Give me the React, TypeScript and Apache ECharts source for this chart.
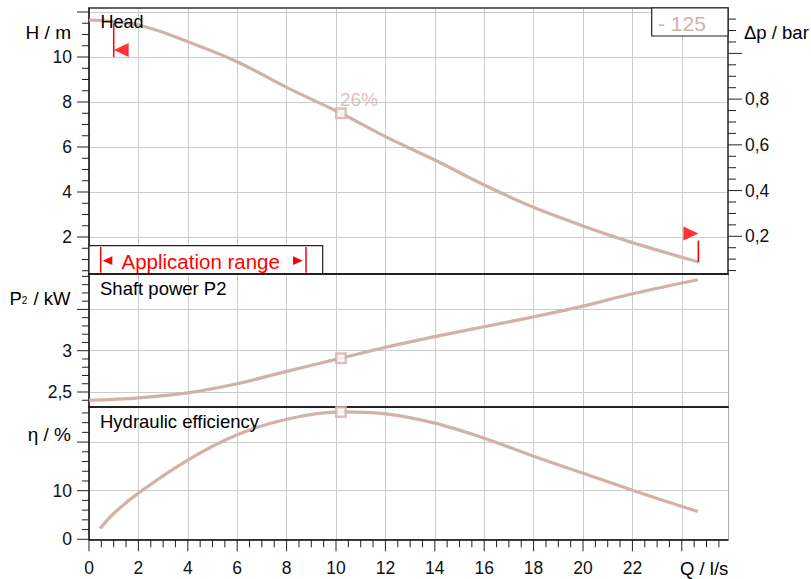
import React, { useEffect, useRef } from "react";
import * as echarts from "echarts";

// ---- data ----
const flowHead = [0, 2, 4, 6, 8, 10.2, 12, 14, 16, 18, 20, 22, 24.67];
const headValues = [11.64, 11.42, 10.68, 9.79, 8.65, 7.5, 6.46, 5.42, 4.31, 3.32, 2.49, 1.75, 0.89];
const flowPower = [0, 2, 4, 6, 8, 10.2, 12, 14, 16, 18, 20, 22, 24.65];
const powerValues = [2.4, 2.43, 2.49, 2.6, 2.75, 2.91, 3.04, 3.17, 3.29, 3.41, 3.54, 3.69, 3.86];
const flowEff = [0.45, 1, 2, 4, 6, 8, 10.2, 12, 14, 16, 18, 20, 22, 24.65];
const effValues = [2.2, 5.3, 9.5, 16.3, 21.5, 24.7, 26.2, 25.8, 23.9, 20.8, 17.1, 13.6, 10.1, 5.7];

const dutyFlow = 10.2;
const dutyHead = 7.5;
const dutyPower = 2.91;
const dutyEff = 26.2;
const dutyLabel = "26%";
const sizeLabel = "- 125";
const rangeLabel = "Application range";

const rangeMin = { flow: 1.0, headTop: 11.5, headBottom: 10.0 };
const rangeMax = { flow: 24.67, headTop: 1.84, headBottom: 0.89 };

// axis extents
const qRange = [0, 25.87];
const hRange = [0.356, 12.178];
const metresPerBar = 10.16;
const pRange = [2.322, 3.929];
const etaRange = [0, 27.28];

// tick values
const qMajor = [0, 2, 4, 6, 8, 10, 12, 14, 16, 18, 20, 22, 24];
const qLabels = [0, 2, 4, 6, 8, 10, 12, 14, 16, 18, 20, 22];
const hMajor = [2, 4, 6, 8, 10, 12];
const hLabels = [2, 4, 6, 8, 10];
const dpMajor = [0.2, 0.4, 0.6, 0.8, 1.0];
const dpLabels = [0.2, 0.4, 0.6, 0.8];
const pMajor = [2.5, 3, 3.5];
const pLabels = [2.5, 3];
const etaMajor = [0, 10, 20];
const etaLabels = [0, 10];

function minorTicks(from: number, to: number, step: number, majors: number[]) {
  const out: number[] = [];
  const n = Math.round((to - from) / step);
  for (let i = 0; i <= n; i++) {
    const v = Math.round((from + i * step) * 1000) / 1000;
    if (!majors.some((m) => Math.abs(m - v) < 1e-6)) out.push(v);
  }
  return out;
}
const qMinor = minorTicks(0, 25.5, 0.5, qMajor);
const hMinor = minorTicks(0.5, 12, 0.5, hMajor);
const dpMinor = minorTicks(0.05, 1.15, 0.05, dpMajor);
const pMinor = minorTicks(2.4, 3.9, 0.1, pMajor);
const etaMinor = minorTicks(2, 26, 2, etaMajor);

// ---- styling ----
const FONT = '"Liberation Sans", Arial, Helvetica, sans-serif';
const CURVE = "#d3b0a8";
const GRIDC = "#cccccc";
const RED = "#ff0000";
const DARK = "#222222";

const LEFT = 89;
const RIGHT_EDGE = 728;
const G0 = { top: 8, bottom: 274 };
const G1 = { top: 274, bottom: 406.7 };
const G2 = { top: 406.7, bottom: 539.3 };

const comma = (v: number) => String(Math.round(v * 100) / 100).replace(".", ",");

function grid(g: { top: number; bottom: number }) {
  return { left: LEFT, width: RIGHT_EDGE - LEFT, top: g.top, height: g.bottom - g.top, containLabel: false };
}

function xAxis(gridIndex: number, opts: any) {
  return {
    type: "value",
    gridIndex,
    min: qRange[0],
    max: qRange[1],
    position: opts.position || "bottom",
    axisLine: { show: !!opts.line, onZero: false, lineStyle: opts.line || {} },
    axisTick: { show: false, customValues: qMajor },
    axisLabel: opts.labels
      ? { show: true, customValues: opts.labels, margin: 20, fontSize: 17.5, fontFamily: FONT, color: "#111" }
      : { show: false },
    splitLine: { show: !!opts.split, lineStyle: { color: GRIDC, width: 1 } },
  };
}

function yAxis(gridIndex: number, range: number[], opts: any) {
  return {
    type: "value",
    gridIndex,
    min: range[0],
    max: range[1],
    position: opts.position || "left",
    axisLine: { show: !!opts.line, onZero: false, lineStyle: opts.line || {} },
    axisTick: { show: false, customValues: opts.ticks || [] },
    axisLabel: opts.labels
      ? {
          show: true,
          customValues: opts.labels,
          margin: 17,
          fontSize: 17.5,
          fontFamily: FONT,
          color: "#111",
          formatter: (v: number) => comma(v),
        }
      : { show: false },
    splitLine: { show: !!opts.split, lineStyle: { color: GRIDC, width: 1 } },
  };
}

const pairs = (xs: number[], ys: number[]) => xs.map((x, i) => [x, ys[i]]);

function curve(name: string, xi: number, yi: number, data: number[][]) {
  return {
    name,
    type: "line",
    xAxisIndex: xi,
    yAxisIndex: yi,
    data,
    smooth: 0.35,
    showSymbol: false,
    symbol: "none",
    lineStyle: { color: CURVE, width: 3.2 },
    z: 3,
  };
}

function duty(xi: number, yi: number, value: number, label?: string) {
  return {
    type: "scatter",
    xAxisIndex: xi,
    yAxisIndex: yi,
    data: [[dutyFlow, value]],
    symbol: "rect",
    symbolSize: 9.5,
    itemStyle: { color: "#ffffff", borderColor: CURVE, borderWidth: 2.5 },
    label: label
      ? { show: true, formatter: label, position: [5, -17], color: CURVE, fontSize: 19, fontFamily: FONT }
      : { show: false },
    z: 5,
  };
}

function redLine(pt: { flow: number; headTop: number; headBottom: number }) {
  return {
    type: "line",
    xAxisIndex: 0,
    yAxisIndex: 0,
    data: [
      [pt.flow, pt.headTop],
      [pt.flow, pt.headBottom],
    ],
    showSymbol: false,
    symbol: "none",
    lineStyle: { color: RED, width: 1.5 },
    z: 6,
  };
}

function textEl(text: string, x: number, y: number, opts: any = {}) {
  return {
    type: "text",
    x,
    y,
    z: 100,
    style: {
      text,
      fill: opts.fill || "#000",
      fontSize: opts.size || 18,
      fontFamily: FONT,
      align: opts.align || "left",
      verticalAlign: "middle",
      rich: opts.rich,
    },
  };
}

export default function App() {
  const ref = useRef<HTMLDivElement>(null);
  useEffect(() => {
    if (!ref.current) return;
    const chart = echarts.init(ref.current, undefined, { renderer: "svg" });
    const dpRange = [hRange[0] / metresPerBar, hRange[1] / metresPerBar];
    const baseGraphic: any[] = [
      // application range box
      {
        type: "rect",
        z: 50,
        shape: { x: LEFT, y: 245.7, width: 322.7 - LEFT, height: 274 - 245.7 },
        style: { fill: "#ffffff", stroke: DARK, lineWidth: 1.2 },
      },
      { type: "line", z: 51, shape: { x1: 100.7, y1: 247, x2: 100.7, y2: 272.7 }, style: { stroke: RED, lineWidth: 1.5 } },
      { type: "line", z: 51, shape: { x1: 306, y1: 247, x2: 306, y2: 272.7 }, style: { stroke: RED, lineWidth: 1.5 } },
      {
        type: "polygon",
        z: 51,
        shape: { points: [[102.7, 260.7], [112.3, 256.3], [112.3, 265.1]] },
        style: { fill: RED },
      },
      {
        type: "polygon",
        z: 51,
        shape: { points: [[302.7, 260.7], [293, 256.3], [293, 265.1]] },
        style: { fill: RED },
      },
      textEl(rangeLabel, 121.5, 261.5, { fill: RED, size: 20.5 }),
      { type: "line", z: 52, shape: { x1: LEFT, y1: 274, x2: RIGHT_EDGE, y2: 274 }, style: { stroke: DARK, lineWidth: 2 } },
      // size label box
      {
        type: "rect",
        z: 50,
        shape: { x: 651.7, y: 8, width: RIGHT_EDGE - 651.7, height: 28 },
        style: { fill: "#ffffff", stroke: DARK, lineWidth: 1.2 },
      },
      textEl(sizeLabel, 658, 23, { fill: CURVE, size: 21 }),
      // panel titles
      textEl("Head", 100.5, 21.5, { size: 18 }),
      textEl("Shaft power P2", 100, 288.5, { size: 18.5 }),
      textEl("Hydraulic efficiency", 100, 421, { size: 18.5 }),
      // axis names
      textEl("H / m", 71, 32, { size: 19, align: "right" }),
      textEl("\u0394p / bar", 744, 32, { size: 18.5 }),
      textEl("{a|P}{s|2}{a| / kW}", 70.5, 298, {
        size: 18.5,
        align: "right",
        rich: {
          a: { fontSize: 18.5, fontFamily: FONT, fill: "#000" },
          s: { fontSize: 10, fontFamily: FONT, fill: "#000", verticalAlign: "bottom", padding: [0, 1, 2, 0] },
        },
      }),
      textEl("\u03b7 / %", 71, 434, { size: 19, align: "right" }),
      textEl("Q / l/s", 680, 568, { size: 18.5 }),
    ];
    const option: any = {
      animation: false,
      backgroundColor: "#ffffff",
      grid: [grid(G0), grid(G1), grid(G2)],
      xAxis: [
        xAxis(0, { line: { color: DARK, width: 2 }, split: true }),
        xAxis(0, { position: "top", line: { color: "#333", width: 1.5 } }),
        xAxis(1, { line: { color: DARK, width: 2 }, split: true }),
        xAxis(2, { line: { color: "#000", width: 1.5 }, split: true, labels: qLabels }),
      ],
      yAxis: [
        yAxis(0, hRange, { line: { color: "#000", width: 1.5 }, ticks: hMajor, labels: hLabels, split: true }),
        yAxis(0, dpRange, { position: "right", line: { color: DARK, width: 1.5 }, ticks: dpMajor, labels: dpLabels }),
        yAxis(1, pRange, { line: { color: "#000", width: 1.5 }, ticks: pMajor, labels: pLabels, split: true }),
        yAxis(1, pRange, { position: "right", line: { color: "#aaaaaa", width: 1 } }),
        yAxis(2, etaRange, { line: { color: "#000", width: 1.5 }, ticks: etaMajor, labels: etaLabels, split: true }),
        yAxis(2, etaRange, { position: "right", line: { color: "#aaaaaa", width: 1 } }),
      ],
      series: [
        curve("Head", 0, 0, pairs(flowHead, headValues)),
        duty(0, 0, dutyHead, dutyLabel),
        curve("Shaft power P2", 2, 2, pairs(flowPower, powerValues)),
        duty(2, 2, dutyPower),
        curve("Hydraulic efficiency", 3, 4, pairs(flowEff, effValues)),
        duty(3, 4, dutyEff),
        redLine(rangeMin),
        redLine(rangeMax),
        {
          type: "scatter",
          xAxisIndex: 0,
          yAxisIndex: 0,
          data: [[rangeMin.flow, rangeMin.headBottom]],
          symbol: "path://M10,0 L0,5 L10,10 Z",
          symbolSize: [15, 14],
          symbolOffset: [7.5, -7],
          itemStyle: { color: RED },
          z: 6,
        },
        {
          type: "scatter",
          xAxisIndex: 0,
          yAxisIndex: 0,
          data: [[rangeMax.flow, rangeMax.headTop]],
          symbol: "path://M0,0 L10,5 L0,10 Z",
          symbolSize: [15, 14],
          symbolOffset: [-7.5, -7],
          itemStyle: { color: RED },
          z: 6,
        },
      ],
      graphic: baseGraphic,
    };
    chart.setOption(option);

    // tick marks, positioned through the axes' own scales
    const ticks: any[] = [];
    const yTicks = (axisIndex: number, values: number[], len: number, side: "left" | "right") => {
      const x0 = side === "left" ? LEFT : RIGHT_EDGE;
      const x1 = side === "left" ? x0 - len : x0 + len;
      values.forEach((v) => {
        const y = chart.convertToPixel({ yAxisIndex: axisIndex } as any, v) as unknown as number;
        ticks.push({ type: "line", z: 40, shape: { x1: x0, y1: y, x2: x1, y2: y }, style: { stroke: DARK, lineWidth: 1 } });
      });
    };
    const xTicks = (axisIndex: number, values: number[], len: number, y0: number) => {
      values.forEach((v) => {
        const x = chart.convertToPixel({ xAxisIndex: axisIndex } as any, v) as unknown as number;
        ticks.push({ type: "line", z: 40, shape: { x1: x, y1: y0, x2: x, y2: y0 + len }, style: { stroke: DARK, lineWidth: 1 } });
      });
    };
    yTicks(0, hMajor, 12, "left");
    yTicks(0, hMinor, 7, "left");
    yTicks(1, dpMajor, 14, "right");
    yTicks(1, dpMinor, 8, "right");
    yTicks(2, pMajor, 12, "left");
    yTicks(2, pMinor, 7, "left");
    yTicks(4, etaMajor, 12, "left");
    yTicks(4, etaMinor, 7, "left");
    xTicks(3, qMajor, 12, G2.bottom);
    xTicks(3, qMinor, 8, G2.bottom);
    chart.setOption({ graphic: [...baseGraphic, ...ticks] });

    return () => chart.dispose();
  }, []);
  return (
    <div
      ref={ref}
      style={{ position: "absolute", left: 0, top: 0, width: 811, height: 579, background: "#fff" }}
    />
  );
}
